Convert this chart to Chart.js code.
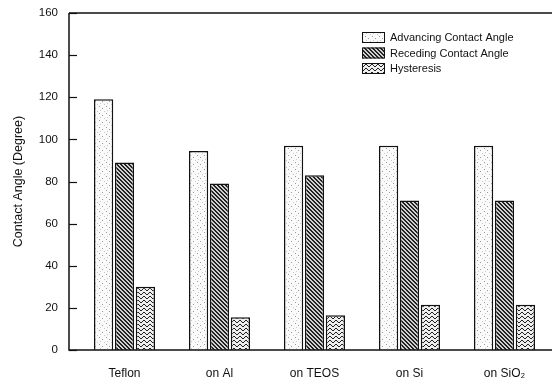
<!DOCTYPE html>
<html>
<head>
<meta charset="utf-8">
<script src="https://cdn.jsdelivr.net/npm/chart.js@4.4.0/dist/chart.umd.min.js"></script>
<style>
  html, body { margin: 0; padding: 0; background: #fff; }
  #wrap { width: 552px; height: 385px; }
</style>
</head>
<body>
<div id="wrap"><canvas id="c"></canvas></div>
<script>
const categories = ['Teflon', 'on Al', 'on TEOS', 'on Si', 'on SiO\u2082']
const advancing = [119, 94.5, 97, 97, 97]
const receding = [89, 79, 83, 71, 71]
const hysteresis = [30, 15.5, 16.5, 21.5, 21.5]
const yTicks = [0, 20, 40, 60, 80, 100, 120, 140, 160]

const AXIS_X = 69 // where the printed y axis sits

// hand-made fill patterns, like the printed figure
function makePattern(kind) {
  const t = document.createElement('canvas')
  const g = t.getContext('2d')
  if (kind === 'dots') {
    t.width = 7; t.height = 7
    g.fillStyle = '#fafafa'
    g.fillRect(0, 0, 7, 7)
    g.fillStyle = '#9a9a9a'
    g.fillRect(1, 1, 1, 1)
    g.fillRect(4, 3, 1, 1)
    g.fillStyle = '#c8c8c8'
    g.fillRect(2, 5, 1, 1)
    g.fillRect(6, 6, 1, 1)
  } else if (kind === 'hatch') {
    t.width = 4; t.height = 4
    g.fillStyle = '#d0d0d0'
    g.fillRect(0, 0, 4, 4)
    g.fillStyle = '#222'
    for (let i = 0; i < 4; i++) {
      g.fillRect(i, i, 1, 1)
      g.fillRect((i + 1) % 4, i, 1, 1)
    }
  } else {
    t.width = 6; t.height = 4
    g.fillStyle = '#eee'
    g.fillRect(0, 0, 6, 4)
    g.fillStyle = '#222'
    const wave = [0, 1, 2, 2, 1, 0]
    for (let i = 0; i < 6; i++) g.fillRect(i, wave[i], 1, 1)
  }
  return g.createPattern(t, 'repeat')
}

const fills = [makePattern('dots'), makePattern('hatch'), makePattern('wave')]

const frame = {
  id: 'frame',
  afterDraw(chart) {
    const ctx = chart.ctx
    const a = chart.chartArea
    const y = chart.scales.y
    ctx.save()
    ctx.strokeStyle = '#111'
    ctx.lineWidth = 1.5
    ctx.beginPath()
    ctx.moveTo(AXIS_X, a.top)
    ctx.lineTo(a.right, a.top)
    ctx.moveTo(AXIS_X, a.top)
    ctx.lineTo(AXIS_X, a.bottom)
    ctx.lineTo(a.right, a.bottom)
    ctx.stroke()
    // inward ticks on the y axis
    ctx.lineWidth = 1.2
    yTicks.forEach(v => {
      const py = Math.round(y.getPixelForValue(v)) + 0.5
      ctx.beginPath()
      ctx.moveTo(AXIS_X, py)
      ctx.lineTo(AXIS_X + 8, py)
      ctx.stroke()
    })
    // legend
    ctx.font = '11px "Liberation Sans", Arial, sans-serif'
    ctx.textBaseline = 'middle'
    chart.data.datasets.forEach((ds, i) => {
      const bx = 362, by = 32 + i * 15.5
      ctx.fillStyle = fills[i]
      ctx.fillRect(bx, by, 23, 11)
      ctx.strokeStyle = '#111'
      ctx.lineWidth = 1
      ctx.strokeRect(bx + 0.5, by + 0.5, 22, 10)
      ctx.fillStyle = '#111'
      ctx.fillText(ds.label, bx + 28, by + 6)
    })
    ctx.restore()
  }
}

new Chart(document.getElementById('c'), {
  type: 'bar',
  data: {
    labels: categories,
    datasets: [
      { label: 'Advancing Contact Angle', data: advancing, backgroundColor: fills[0] },
      { label: 'Receding Contact Angle', data: receding, backgroundColor: fills[1] },
      { label: 'Hysteresis', data: hysteresis, backgroundColor: fills[2] }
    ]
  },
  options: {
    responsive: true,
    maintainAspectRatio: false,
    animation: false,
    layout: { padding: { top: 13, right: -5, left: 0, bottom: 0 } },
    datasets: {
      bar: {
        borderColor: '#111',
        borderWidth: 1.5,
        categoryPercentage: 0.66,
        barPercentage: 0.92
      }
    },
    plugins: {
      legend: { display: false },
      tooltip: { enabled: false }
    },
    scales: {
      x: {
        grid: { display: false, drawTicks: false },
        border: { display: false },
        ticks: {
          color: '#111',
          padding: 16,
          font: { family: '"Liberation Sans", Arial, sans-serif', size: 12 }
        },
        afterFit: s => { s.height = 35 }
      },
      y: {
        min: 0,
        max: 160,
        grid: { display: false, drawTicks: false },
        border: { display: false },
        ticks: {
          stepSize: 20,
          color: '#111',
          padding: 19,
          font: { family: '"Liberation Sans", Arial, sans-serif', size: 11.5 }
        },
        title: {
          display: true,
          text: 'Contact Angle (Degree)',
          color: '#111',
          padding: { top: 11, bottom: 0 },
          font: { family: '"Liberation Sans", Arial, sans-serif', size: 12.5 }
        },
        afterFit: s => { s.width = AXIS_X + 8; s.paddingTop = 0 }
      }
    }
  },
  plugins: [frame]
})
</script>
</body>
</html>
